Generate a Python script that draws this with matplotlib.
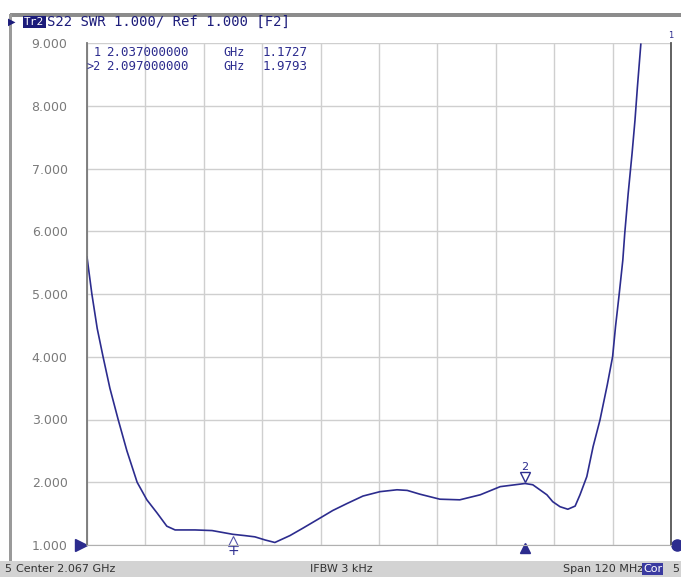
import matplotlib.pyplot as plt
import numpy as np
from matplotlib.patches import Rectangle
from matplotlib.transforms import offset_copy

freq_ghz = [2.0070, 2.0080, 2.0091, 2.0103, 2.0117, 2.0134, 2.0152, 2.0173, 2.0193,
            2.0214, 2.0234, 2.0251, 2.0292, 2.0327, 2.0370, 2.0394, 2.0415, 2.0436,
            2.0456, 2.0487, 2.0514, 2.0549, 2.0575, 2.0604, 2.0637, 2.0672, 2.0707,
            2.0728, 2.0754, 2.0795, 2.0836, 2.0878, 2.0919, 2.0970, 2.0986, 2.1015,
            2.1027, 2.1042, 2.1058, 2.1073, 2.1083, 2.1097, 2.1110, 2.1124, 2.1139,
            2.1150, 2.1156, 2.1163, 2.1171, 2.1175, 2.1182, 2.1190, 2.1196, 2.1201,
            2.1208]
swr = [5.59, 5.00, 4.45, 4.00, 3.50, 3.00, 2.50, 2.00, 1.72,
       1.51, 1.30, 1.24, 1.24, 1.23, 1.17, 1.15, 1.13, 1.08,
       1.04, 1.15, 1.27, 1.43, 1.55, 1.66, 1.78, 1.85, 1.88,
       1.87, 1.81, 1.73, 1.72, 1.80, 1.93, 1.98, 1.96, 1.80,
       1.69, 1.61, 1.57, 1.62, 1.80, 2.09, 2.57, 2.99, 3.55,
       4.00, 4.48, 4.96, 5.54, 5.97, 6.60, 7.24, 7.77, 8.30,
       8.98]

marker_ids = ['1', '2']
marker_freq = [2.037, 2.097]
marker_val = [1.1727, 1.9793]

y_ticks = [1, 2, 3, 4, 5, 6, 7, 8, 9]
center_ghz = 2.067
span_mhz = 120

trace_color = '#2c2c8e'
text_gray = '#7a7a7a'

fig = plt.figure(figsize=(6.81, 5.77), dpi=100)
W, H = 681.0, 577.0

# ---- screen frame ----
fig.add_artist(Rectangle((10 / W, (H - 17) / H), 1 - 10 / W, 4 / H,
                         transform=fig.transFigure, color='#8c8c8c', lw=0))
fig.add_artist(Rectangle((9 / W, 16 / H), 3 / W, (H - 30) / H,
                         transform=fig.transFigure, color='#9a9a9a', lw=0))
fig.add_artist(Rectangle((0, 0), 1, 16 / H, transform=fig.transFigure,
                         color='#d3d3d3', lw=0))

# ---- plot area ----
ax = fig.add_axes([87 / W, 32 / H, 584 / W, 502 / H])
lo = center_ghz - span_mhz / 2000.0
hi = center_ghz + span_mhz / 2000.0
ax.set_xlim(lo, hi)
ax.set_ylim(y_ticks[0], y_ticks[-1])
ax.set_xticks(np.linspace(lo, hi, 11))
ax.set_xticklabels([])
ax.set_yticks(y_ticks)
ax.set_yticklabels(['%.3f' % v for v in y_ticks], color=text_gray, fontsize=9)
ax.tick_params(length=0, pad=14)
ax.grid(True, color='#cfcfcf', lw=1)
ax.spines['top'].set_visible(False)
ax.spines['left'].set_color('#777777')
ax.spines['right'].set_color('#555555')
ax.spines['bottom'].set_color('#b0b0b0')
for s in ['left', 'right']:
    ax.spines[s].set_linewidth(1.3)

ax.plot(freq_ghz, swr, color=trace_color, lw=1.2)

# marker 1 (below the trace)
t_down = offset_copy(ax.transData, fig=fig, x=0, y=-7, units='dots')
ax.plot(marker_freq[0], marker_val[0], marker='^', ms=7, mfc='white',
        mec='#5555aa', mew=0.8, transform=t_down, clip_on=False)
t_down2 = offset_copy(ax.transData, fig=fig, x=0, y=-17, units='dots')
ax.text(marker_freq[0], marker_val[0], '+', color=trace_color, fontsize=10,
        ha='center', va='center', transform=t_down2, clip_on=False)

# marker 2 (active, above the trace)
t_up = offset_copy(ax.transData, fig=fig, x=0, y=7, units='dots')
ax.plot(marker_freq[1], marker_val[1], marker='v', ms=7, mfc='white',
        mec=trace_color, mew=1.0, transform=t_up)
ax.annotate(marker_ids[1], (marker_freq[1], marker_val[1]), xytext=(0, 17),
            textcoords='offset pixels', ha='center', va='center',
            color=trace_color, fontsize=8)
t_bot = offset_copy(ax.transData, fig=fig, x=0, y=-3, units='dots')
ax.plot(marker_freq[1], y_ticks[0], marker='^', ms=7, color=trace_color,
        transform=t_bot, clip_on=False)

# reference level arrows
t_left = offset_copy(ax.transData, fig=fig, x=-6, y=0, units='dots')
ax.plot(lo, y_ticks[0], marker='>', ms=8, color=trace_color, transform=t_left,
        clip_on=False)
t_right = offset_copy(ax.transData, fig=fig, x=6, y=0, units='dots')
ax.plot(hi, y_ticks[0], marker='o', ms=8, color=trace_color, transform=t_right,
        clip_on=False)
ax.text(1.0, 1.005, '1', transform=ax.transAxes, color=trace_color, fontsize=6,
        ha='center', va='bottom')

# marker table
mono = 'DejaVu Sans Mono'
for i, (mid, mf, mv) in enumerate(zip(marker_ids, marker_freq, marker_val)):
    yy = (H - 53 - 13 * i) / H
    label = mid if i == 0 else '>' + mid
    fig.text(101 / W, yy, label, ha='right', va='center', color=trace_color,
             fontsize=8.5, family=mono)
    fig.text(106 / W, yy, '%.9f' % mf, ha='left', va='center', color=trace_color,
             fontsize=9, family=mono)
    fig.text(223 / W, yy, 'GHz', ha='left', va='center', color=trace_color,
             fontsize=8.5, family=mono)
    fig.text(263 / W, yy, '%.4f' % mv, ha='left', va='center', color=trace_color,
             fontsize=9, family=mono)

# title line
fig.text(8 / W, (H - 22) / H, '\u25b6', color='#1c1c7a', fontsize=7, va='center')
fig.text(24 / W, (H - 22) / H, 'Tr2', color='white', fontsize=8, va='center',
         family=mono, bbox=dict(facecolor='#1c1c7a', edgecolor='none', pad=1))
fig.text(47 / W, (H - 22) / H, 'S22 SWR 1.000/ Ref 1.000 [F2]', color='#1c1c7a',
         fontsize=10, va='center', family=mono)

# status bar
sb_y = 8 / H
fig.text(4 / W, sb_y, '5', fontsize=8, va='center', color='#333333')
fig.text(16 / W, sb_y, 'Center %.3f GHz' % center_ghz, fontsize=8, va='center',
         color='#333333')
fig.text(310 / W, sb_y, 'IFBW 3 kHz', fontsize=8, va='center', color='#333333')
fig.text(563 / W, sb_y, 'Span %d MHz' % span_mhz, fontsize=8, va='center',
         color='#333333')
fig.text(643 / W, sb_y, 'Cor', fontsize=8, va='center', color='white',
         bbox=dict(facecolor='#3a3aa0', edgecolor='none', pad=1))
fig.text(672 / W, sb_y, '5', fontsize=8, va='center', color='#333333')

fig.savefig('out.png', dpi=100)
